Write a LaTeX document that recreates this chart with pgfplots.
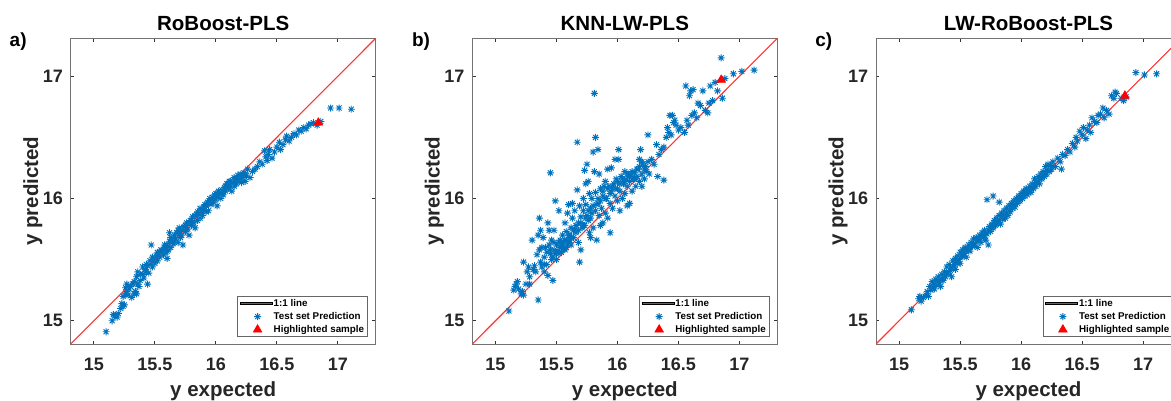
\documentclass[border=0pt]{standalone}
\usepackage{fontspec}
\setmainfont{Liberation Sans}
\usepackage{pgfplots}
\pgfplotsset{compat=1.18}
\usepackage{pgfplotstable}
\definecolor{mblue}{rgb}{0,0.447,0.741}
\definecolor{lred}{rgb}{1,0.2,0.2}
\pgfdeclareplotmark{mstar}{%
  \pgfpathmoveto{\pgfqpoint{0pt}{\pgfplotmarksize}}\pgfpathlineto{\pgfqpoint{0pt}{-\pgfplotmarksize}}%
  \pgfpathmoveto{\pgfqpoint{\pgfplotmarksize}{0pt}}\pgfpathlineto{\pgfqpoint{-\pgfplotmarksize}{0pt}}%
  \pgfpathmoveto{\pgfqpoint{.7071\pgfplotmarksize}{.7071\pgfplotmarksize}}\pgfpathlineto{\pgfqpoint{-.7071\pgfplotmarksize}{-.7071\pgfplotmarksize}}%
  \pgfpathmoveto{\pgfqpoint{-.7071\pgfplotmarksize}{.7071\pgfplotmarksize}}\pgfpathlineto{\pgfqpoint{.7071\pgfplotmarksize}{-.7071\pgfplotmarksize}}%
  \pgfusepathqstroke}

\pgfplotstableread{
x y
15.10 14.91
15.15 15.00
15.17 15.04
15.16 15.05
15.19 15.03
15.20 15.06
15.22 15.10
15.24 15.12
15.23 15.14
15.25 15.13
15.24 15.20
15.26 15.22
15.27 15.24
15.28 15.21
15.29 15.26
15.30 15.28
15.27 15.30
15.31 15.19
15.33 15.22
15.34 15.24
15.35 15.22
15.33 15.32
15.35 15.36
15.36 15.30
15.38 15.33
15.37 15.28
15.40 15.38
15.41 15.35
15.42 15.42
15.43 15.40
15.44 15.30
15.44 15.45
15.45 15.39
15.46 15.49
15.47 15.62
15.48 15.44
15.48 15.52
15.49 15.50
15.50 15.47
15.51 15.53
15.52 15.49
15.53 15.55
15.54 15.52
15.60 15.51
15.56 15.57
15.57 15.54
15.58 15.60
15.59 15.56
15.60 15.62
15.61 15.58
15.62 15.65
15.62 15.72
15.63 15.60
15.64 15.66
15.65 15.63
15.66 15.70
15.67 15.67
15.68 15.72
15.69 15.64
15.70 15.71
15.70 15.76
15.71 15.68
15.72 15.74
15.73 15.62
15.74 15.77
15.75 15.73
15.76 15.80
15.77 15.75
15.78 15.70
15.79 15.82
15.80 15.78
15.81 15.85
15.82 15.80
15.83 15.76
15.84 15.87
15.85 15.82
15.86 15.88
15.87 15.84
15.88 15.90
15.89 15.86
15.90 15.93
15.91 15.95
15.92 15.89
15.93 15.97
15.94 15.90
15.95 15.98
15.96 15.95
15.97 16.01
15.98 15.97
15.99 16.03
16.00 15.99
16.00 16.04
16.01 15.94
16.02 16.02
16.03 16.05
16.04 16.00
16.05 16.07
16.06 16.03
16.07 16.09
16.08 16.06
16.09 16.12
16.10 16.08
16.11 16.14
16.12 16.10
16.13 16.06
16.14 16.13
16.15 16.10
16.16 16.16
16.17 16.12
16.18 16.19
16.19 16.15
16.20 16.20
16.21 16.13
16.22 16.17
16.23 16.21
16.24 16.14
16.25 16.19
16.26 16.24
16.28 16.17
16.30 16.22
16.32 16.24
16.34 16.26
16.36 16.30
16.38 16.28
16.40 16.39
16.41 16.34
16.42 16.31
16.43 16.36
16.44 16.40
16.46 16.33
16.48 16.38
16.50 16.42
16.52 16.46
16.53 16.40
16.55 16.44
16.57 16.48
16.58 16.51
16.60 16.47
16.62 16.50
16.64 16.53
16.66 16.52
16.68 16.56
16.70 16.55
16.72 16.58
16.74 16.57
16.76 16.60
16.78 16.61
16.80 16.62
16.83 16.60
16.86 16.63
16.94 16.74
17.01 16.74
17.11 16.73
15.52 15.56
15.55 15.58
15.58 15.62
15.60 15.57
15.63 15.68
15.66 15.64
15.69 15.74
15.72 15.70
15.75 15.78
15.78 15.80
15.80 15.82
15.83 15.86
15.85 15.89
15.87 15.92
15.90 15.90
15.92 15.94
15.95 16.00
15.97 15.99
16.00 16.02
16.02 16.06
16.05 16.04
16.08 16.10
16.10 16.12
16.12 16.14
16.15 16.17
16.18 16.16
16.21 16.19
16.24 16.20
15.40 15.44
15.43 15.46
15.46 15.46
15.38 15.38
15.36 15.40
15.32 15.30
15.26 15.27
}\dataA

\pgfplotstableread{
x y
15.11 15.08
15.15 15.25
15.16 15.28
15.17 15.30
15.18 15.32
15.19 15.26
15.21 15.22
15.22 15.24
15.23 15.21
15.23 15.48
15.25 15.30
15.26 15.40
15.27 15.44
15.28 15.36
15.28 15.30
15.30 15.66
15.31 15.42
15.32 15.45
15.33 15.40
15.34 15.54
15.35 15.17
15.35 15.70
15.36 15.58
15.36 15.84
15.37 15.48
15.37 15.74
15.38 15.44
15.39 15.68
15.40 15.52
15.40 15.40
15.41 15.60
15.42 15.46
15.43 15.80
15.43 15.37
15.44 15.62
15.44 15.74
15.45 15.55
15.45 16.21
15.46 15.50
15.46 15.66
15.47 15.33
15.47 15.52
15.48 15.74
15.48 15.58
15.49 15.98
15.49 15.55
15.50 15.62
15.50 15.50
15.51 15.57
15.52 15.64
15.52 15.90
15.53 15.60
15.54 15.56
15.55 15.70
15.55 15.62
15.56 15.59
15.57 15.80
15.57 15.66
15.58 15.73
15.58 15.60
15.59 15.88
15.60 15.64
15.60 15.95
15.61 15.70
15.62 15.76
15.62 15.62
15.63 15.84
15.63 15.96
15.64 15.68
15.65 15.75
15.65 15.90
15.66 15.72
15.67 16.07
15.67 16.46
15.68 15.80
15.68 15.64
15.69 15.94
15.69 15.48
15.70 15.85
15.70 15.58
15.71 15.76
15.72 16.00
15.72 15.90
15.73 16.23
15.73 15.78
15.74 16.12
15.74 15.95
15.75 15.86
15.75 16.28
15.76 16.14
15.76 15.82
15.77 15.72
15.77 16.04
15.78 15.92
15.78 15.68
15.79 16.00
15.79 15.88
15.80 16.38
15.80 15.76
15.81 16.22
15.81 16.86
15.82 16.05
15.82 16.50
15.83 15.95
15.83 15.66
15.84 16.40
15.84 16.00
15.85 15.86
15.85 16.20
15.86 16.08
15.86 15.78
15.87 15.92
15.88 16.02
15.88 15.80
15.89 16.10
15.90 15.88
15.90 16.14
15.91 16.00
15.92 15.84
15.92 16.24
15.93 16.10
15.94 15.72
15.94 15.96
15.95 16.25
15.95 16.06
15.96 15.92
15.97 16.12
15.98 16.02
15.98 16.32
15.99 16.16
16.00 15.98
16.00 16.08
16.01 16.32
16.01 16.40
16.02 15.90
16.02 16.06
16.03 16.18
16.04 16.00
16.05 16.12
16.06 16.22
16.06 16.04
16.07 16.16
16.08 15.94
16.08 16.10
16.09 16.20
16.10 16.14
16.10 15.96
16.11 16.19
16.12 16.06
16.13 16.16
16.14 16.21
16.15 16.10
16.16 16.18
16.17 16.24
16.18 16.14
16.18 16.32
16.19 16.40
16.20 16.20
16.20 16.10
16.21 16.28
16.22 16.16
16.23 16.26
16.24 16.22
16.25 16.52
16.25 16.30
16.26 16.20
16.28 16.32
16.30 16.28
16.32 16.44
16.33 16.18
16.34 16.36
16.36 16.40
16.38 16.42
16.38 16.15
16.40 16.50
16.41 16.58
16.42 16.54
16.43 16.68
16.44 16.52
16.45 16.68
16.46 16.62
16.47 16.64
16.48 16.60
16.50 16.56
16.52 16.58
16.55 16.54
16.56 16.92
16.57 16.64
16.58 16.60
16.59 16.84
16.60 16.88
16.61 16.68
16.62 16.89
16.63 16.70
16.65 16.66
16.66 16.78
16.68 16.76
16.70 16.88
16.72 16.72
16.74 16.70
16.75 16.78
16.76 16.92
16.78 16.80
16.80 16.95
16.82 16.88
16.85 17.15
16.86 16.82
16.88 16.98
16.95 17.02
17.02 17.04
17.12 17.05
15.52 15.55
15.54 15.62
15.56 15.64
15.58 15.66
15.60 15.70
15.62 15.68
15.64 15.74
15.66 15.78
15.68 15.74
15.70 15.80
15.72 15.78
15.74 15.84
15.76 15.90
15.78 15.84
15.80 15.94
15.82 15.90
15.84 15.96
15.86 15.98
15.88 16.06
15.90 16.00
15.92 16.08
15.94 16.04
15.96 16.10
15.98 16.08
16.00 16.14
16.02 16.12
16.04 16.16
16.06 16.14
16.08 16.20
16.10 16.18
16.12 16.22
16.14 16.16
16.16 16.24
16.18 16.26
16.20 16.30
16.22 16.24
15.45 15.58
15.48 15.64
15.50 15.56
15.53 15.66
15.57 15.58
15.59 15.62
15.61 15.66
15.42 15.56
15.40 15.46
15.38 15.60
}\dataB

\pgfplotstableread{
x y
15.10 15.09
15.16 15.18
15.17 15.20
15.18 15.16
15.20 15.19
15.22 15.21
15.23 15.24
15.24 15.20
15.25 15.28
15.26 15.25
15.27 15.32
15.28 15.30
15.29 15.26
15.30 15.34
15.31 15.29
15.32 15.36
15.33 15.31
15.34 15.28
15.35 15.38
15.36 15.33
15.37 15.40
15.38 15.36
15.39 15.44
15.40 15.38
15.41 15.46
15.42 15.41
15.43 15.36
15.44 15.49
15.45 15.44
15.46 15.51
15.46 15.42
15.47 15.48
15.48 15.53
15.49 15.50
15.50 15.56
15.50 15.47
15.51 15.53
15.52 15.58
15.53 15.55
15.54 15.60
15.55 15.52
15.56 15.58
15.57 15.62
15.58 15.57
15.59 15.64
15.60 15.61
15.61 15.67
15.62 15.63
15.63 15.68
15.64 15.60
15.65 15.66
15.66 15.70
15.67 15.64
15.68 15.72
15.69 15.68
15.70 15.74
15.71 15.66
15.72 15.99
15.72 15.71
15.73 15.62
15.74 15.77
15.75 15.73
15.76 15.79
15.77 16.02
15.77 15.76
15.78 15.82
15.79 15.78
15.80 15.84
15.81 15.80
15.82 15.97
15.82 15.86
15.83 15.79
15.84 15.88
15.85 15.83
15.86 15.90
15.87 15.84
15.88 15.92
15.89 15.86
15.90 15.94
15.91 15.89
15.92 15.96
15.93 15.92
15.94 15.98
15.95 15.93
15.96 16.00
15.97 15.96
15.98 16.02
15.99 15.98
16.00 16.04
16.01 16.00
16.02 16.06
16.03 16.02
16.04 16.08
16.05 16.03
16.06 16.07
16.07 16.10
16.08 16.05
16.09 16.12
16.10 16.08
16.11 16.16
16.12 16.10
16.13 16.14
16.14 16.18
16.15 16.12
16.16 16.20
16.17 16.16
16.18 16.22
16.19 16.18
16.20 16.26
16.21 16.20
16.22 16.28
16.23 16.22
16.25 16.24
16.26 16.30
16.28 16.26
16.30 16.33
16.32 16.30
16.33 16.24
16.34 16.36
16.36 16.35
16.38 16.40
16.40 16.38
16.42 16.45
16.44 16.42
16.45 16.50
16.46 16.47
16.48 16.55
16.50 16.52
16.51 16.58
16.53 16.49
16.54 16.56
16.56 16.60
16.57 16.54
16.58 16.66
16.60 16.63
16.62 16.62
16.63 16.68
16.65 16.69
16.67 16.74
16.68 16.66
16.70 16.72
16.72 16.69
16.74 16.84
16.76 16.82
16.77 16.87
16.78 16.86
16.82 16.82
16.84 16.80
16.86 16.83
16.94 17.03
17.01 17.01
17.11 17.02
15.45 15.46
15.48 15.47
15.52 15.53
15.55 15.57
15.58 15.60
15.61 15.62
15.64 15.66
15.67 15.69
15.70 15.70
15.73 15.74
15.76 15.76
15.79 15.81
15.82 15.82
15.85 15.86
15.88 15.88
15.91 15.92
15.94 15.95
15.97 15.99
16.00 16.01
16.03 16.05
16.06 16.05
16.09 16.09
16.12 16.13
16.15 16.16
16.18 16.19
16.21 16.23
16.24 16.27
15.35 15.34
15.39 15.40
15.42 15.44
15.31 15.33
15.28 15.27
}\dataC

\pgfplotsset{
  every axis title shift=0pt,
  panel/.style={
    scale only axis, width=152.5pt, height=152.85pt, anchor=south west,
    xmin=14.81, xmax=17.31, ymin=14.81, ymax=17.31,
    xtick={15,15.5,16,16.5,17}, ytick={15,16,17},
    /pgf/number format/assume math mode=true,
    tick label style={font=\fontsize{9}{10}\selectfont\bfseries, text=black!85},
    xticklabel style={anchor=base, inner sep=0pt, yshift=-13pt},
    yticklabel style={anchor=east, inner sep=0pt, xshift=-3.7pt},
    major tick length=1.7pt,
    every tick/.style={black!80, line width=0.4pt},
    axis line style={black!55, line width=0.45pt},
    xlabel={y expected}, ylabel={y predicted},
    label style={font=\fontsize{10.25}{12}\selectfont\bfseries, text=black!85},
    xlabel style={at={(axis description cs:0.5,-0.1724)}, anchor=base},
    ylabel style={at={(axis description cs:-0.1072,0.5)}, anchor=base},
    title style={at={(axis description cs:0.5,1.0249)}, anchor=base, yshift=0pt, font=\fontsize{10.25}{12}\selectfont\bfseries},
    legend cell align=left,
    legend style={at={(1,0)}, anchor=south east, xshift=-4pt, yshift=3.5pt,
      draw=black!60,
      font=\fontsize{4.9}{5.5}\selectfont\bfseries,
      inner xsep=1.2pt, inner ysep=0.8pt, row sep=1.1pt,
      nodes={inner sep=0.4pt, text height=3.6pt, text depth=1pt}},
  },
  stars/.style={only marks, mark=mstar, mark size=1.75pt, mblue, line width=0.45pt},
  hilite/.style={only marks, mark=triangle*, mark size=2.4pt, red, mark options={fill=red, draw=red}},
  redbar/.style={legend image code/.code={\fill[fill=red!85!white] (0pt,-0.45pt) rectangle (16pt,0.45pt);}},
}

\begin{document}
\begin{tikzpicture}
\useasboundingbox (0,0) rectangle (585.5pt,200.5pt);
\clip (0,0) rectangle (585.5pt,200.5pt);

\begin{axis}[panel, at={(35.35pt,28.5pt)}, title={RoBoost-PLS}]
\addplot[draw=lred, line width=0.55pt, forget plot] coordinates {(14.81,14.81) (17.31,17.31)};
\addlegendimage{redbar}
\addlegendentry{1:1 line}
\addplot[stars] table[x=x,y=y] {\dataA};
\addlegendentry{Test set Prediction}
\addplot[hilite] coordinates {(16.84,16.62)};
\addlegendentry{Highlighted sample}
\end{axis}

\begin{axis}[panel, at={(236.15pt,28.5pt)}, title={KNN-LW-PLS}]
\addplot[draw=lred, line width=0.55pt, forget plot] coordinates {(14.81,14.81) (17.31,17.31)};
\addlegendimage{redbar}
\addlegendentry{1:1 line}
\addplot[stars] table[x=x,y=y] {\dataB};
\addlegendentry{Test set Prediction}
\addplot[hilite] coordinates {(16.85,16.97)};
\addlegendentry{Highlighted sample}
\end{axis}

\begin{axis}[panel, at={(438pt,28.5pt)}, title={LW-RoBoost-PLS}]
\addplot[draw=lred, line width=0.55pt, forget plot] coordinates {(14.81,14.81) (17.31,17.31)};
\addlegendimage{redbar}
\addlegendentry{1:1 line}
\addplot[stars] table[x=x,y=y] {\dataC};
\addlegendentry{Test set Prediction}
\addplot[hilite] coordinates {(16.85,16.84)};
\addlegendentry{Highlighted sample}
\end{axis}

\node[anchor=base west, inner sep=0pt, font=\fontsize{9.5}{11}\selectfont\bfseries] at (4.65pt,177pt) {a)};
\node[anchor=base west, inner sep=0pt, font=\fontsize{9.5}{11}\selectfont\bfseries] at (205.85pt,177pt) {b)};
\node[anchor=base west, inner sep=0pt, font=\fontsize{9.5}{11}\selectfont\bfseries] at (407.5pt,177pt) {c)};
\end{tikzpicture}
\end{document}
